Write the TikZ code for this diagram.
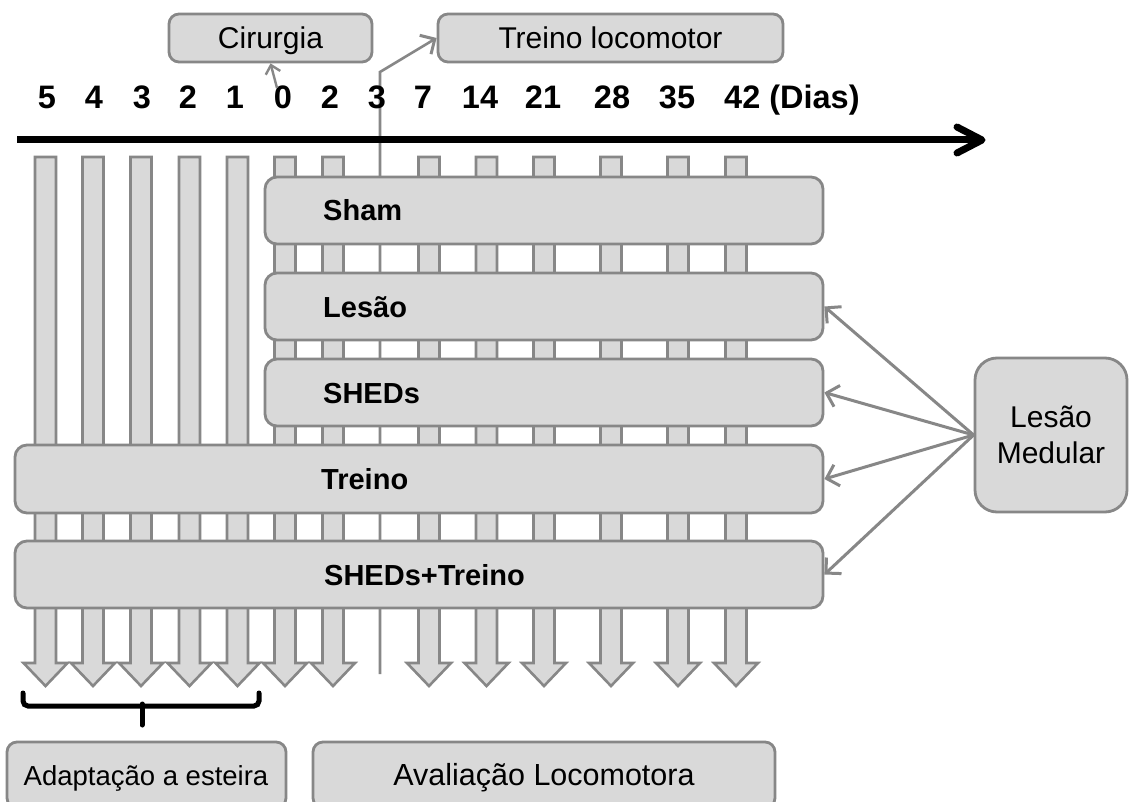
\documentclass[tikz,border=0pt]{standalone}
\usepackage{fontspec}
\setmainfont{Liberation Sans}
\usetikzlibrary{arrows.meta}
\definecolor{boxfill}{HTML}{D9D9D9}
\definecolor{boxline}{HTML}{878787}

\begin{document}
\begin{tikzpicture}[x=1pt,y=-1pt,
  grp/.style={draw=boxline, fill=boxfill, line width=2.8pt, rounded corners=12pt, inner sep=0pt},
  grplabel/.style={font=\fontsize{29}{34}\selectfont\bfseries, anchor=base west, inner sep=0pt},
  daynum/.style={font=\fontsize{32.5}{38}\selectfont\bfseries, anchor=base, inner sep=0pt},
  note/.style={grp, rounded corners=10pt, font=\fontsize{30}{35}\selectfont, text height=21pt, text depth=0pt},
  notetext/.style={font=\fontsize{29}{34}\selectfont, anchor=base, inner sep=0pt},
  link/.style={draw=boxline, line width=3pt, -{Straight Barb[length=11pt,width=22pt,line width=3pt]}},
  dayarrow/.style={draw=boxline, fill=boxfill, line width=2.6pt, line join=miter}]

\useasboundingbox (0,0) rectangle (1129,802);
\fill[white] (0,0) rectangle (1129,802);

% evaluation / adaptation day arrows
\foreach \c in {45.5,93,141,189.5,237.5,285,333,429,486.5,544,611,678,736}{
  \draw[dayarrow] (\c-10.5,157) -- (\c+10.5,157) -- (\c+10.5,663) -- (\c+22,663)
    -- (\c,686) -- (\c-22,663) -- (\c-10.5,663) -- cycle;
}

% top annotation boxes
\node[note, minimum width=203pt, minimum height=48pt] (cir) at (270.5,38) {Cirurgia};
\node[note, minimum width=345pt, minimum height=48pt] (trl) at (610.5,38) {Treino locomotor};

% day-3 marker line leading to the locomotor training box
\coordinate (d3low) at (380,674);
\coordinate (d3bend) at (380,72);
\draw[link, line width=2.6pt] (d3low) -- (d3bend) -- (trl.west);

% time axis
\coordinate (axstart) at (17,140);
\coordinate (axend) at (982,140);
\draw[line width=7pt] (axstart) -- (axend);
\draw[line width=7pt, line cap=round, line join=round] (957,127) -- (axend) -- (957,153);

% day numbers
\node[daynum] (n5) at (47,109) {5};
\node[daynum] (n4) at (94,109) {4};
\node[daynum] (n3) at (142,109) {3};
\node[daynum] (n2) at (188,109) {2};
\node[daynum] (n1) at (235,109) {1};
\node[daynum] (d0) at (283,109) {0};
\node[daynum] (d2) at (330,109) {2};
\node[daynum] (d3) at (377,109) {3};
\node[daynum] (d7) at (423,109) {7};
\node[daynum] (d14) at (480,109) {14};
\node[daynum] (d21) at (543,109) {21};
\node[daynum] (d28) at (612,109) {28};
\node[daynum] (d35) at (677,109) {35};
\node[daynum, anchor=base west] (d42) at (724,109) {42 (Dias)};

% surgery pointer
\coordinate (cirtail) at (277,88);
\draw[link, line width=2.4pt, -{Straight Barb[length=8pt,width=15pt,line width=2.4pt]}] (cirtail) -- (cir.south);

% experimental groups
\node[grp, minimum width=558pt, minimum height=67pt] (sham) at (544,210.5) {};
\node[grp, minimum width=558pt, minimum height=67pt] (lesao) at (544,306.5) {};
\node[grp, minimum width=558pt, minimum height=67pt] (sheds) at (544,392.5) {};
\node[grp, minimum width=808pt, minimum height=68pt] (treino) at (419,479) {};
\node[grp, minimum width=808pt, minimum height=67pt] (shedstr) at (419,574.5) {};

\node[grplabel] (lsham) at (323,221) {Sham};
\node[grplabel] (llesao) at (323,317) {Lesão};
\node[grplabel] (lsheds) at (323,403) {SHEDs};
\node[grplabel] (ltreino) at (321,489.5) {Treino};
\node[grplabel] (lshedstr) at (324,585) {SHEDs+Treino};

% spinal cord injury box and its links
\node[grp, rounded corners=22pt, minimum width=152pt, minimum height=154pt,
      align=center, font=\fontsize{30}{36}\selectfont] (lm) at (1051,435) {Lesão\\Medular};
\draw[link] (lm.west) -- (lesao.east);
\draw[link] (lm.west) -- (sheds.east);
\draw[link] (lm.west) -- (treino.east);
\draw[link] (lm.west) -- (shedstr.east);

% bracket over the adaptation days
\coordinate (brl) at (23,693);
\coordinate (brr) at (259,693);
\coordinate (brtip) at (142,725);
\draw[line width=5pt, line cap=round, rounded corners=5pt] (brl) -- (23,706) -- (259,706) -- (brr);
\draw[line width=5pt, line cap=round] (142,704) -- (brtip);

% bottom phase boxes
\begin{scope}
  \clip (0,0) rectangle (1129,802);
  \node[grp, rounded corners=10pt, minimum width=279pt, minimum height=66pt] (adapt) at (146.5,775) {};
  \node[grp, rounded corners=10pt, minimum width=462pt, minimum height=66pt] (aval) at (544,775) {};
\end{scope}
\node[notetext, font=\fontsize{27.5}{33}\selectfont] (ladapt) at (146,785) {Adaptação a esteira};
\node[notetext, font=\fontsize{30.5}{36}\selectfont] (laval) at (544,785) {Avaliação Locomotora};
\end{tikzpicture}
\end{document}
